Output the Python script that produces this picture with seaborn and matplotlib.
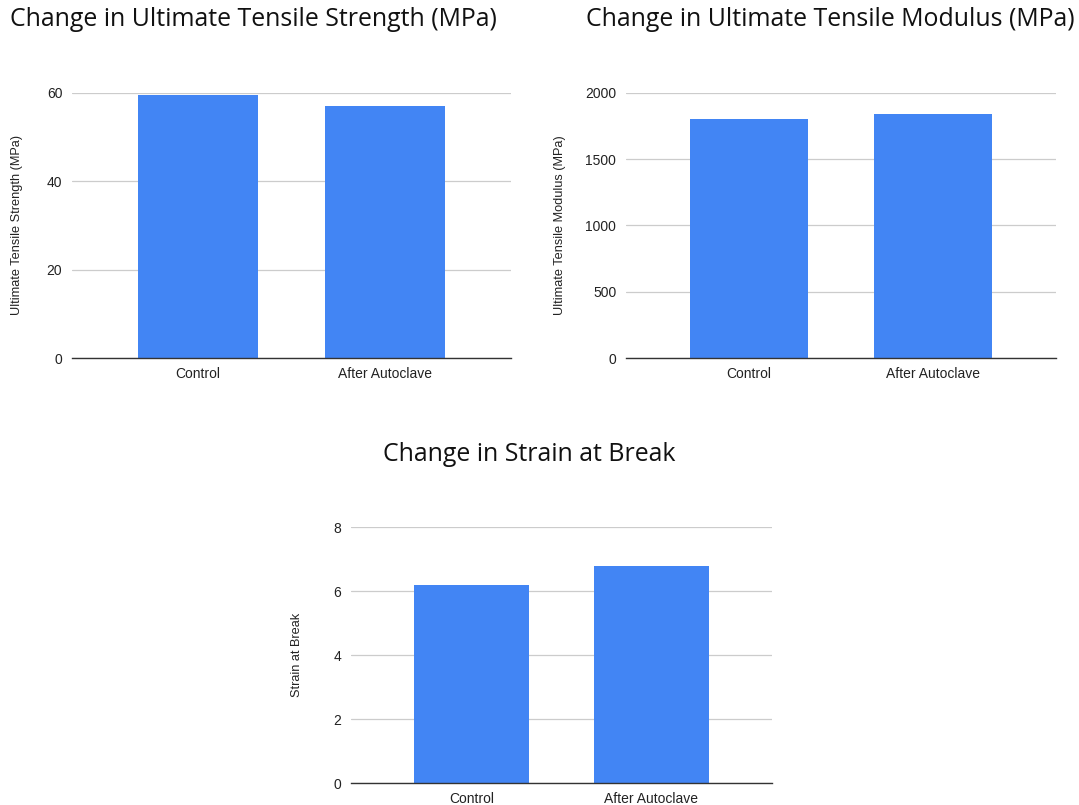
import matplotlib
matplotlib.use("Agg")
import matplotlib.pyplot as plt
import seaborn as sns
import pandas as pd

categories = ["Control", "After Autoclave"]
uts_values = [59.4, 57.0]
modulus_values = [1805, 1840]
strain_values = [6.21, 6.80]

uts_ticks = [0, 20, 40, 60]
modulus_ticks = [0, 500, 1000, 1500, 2000]
strain_ticks = [0, 2, 4, 6, 8]

titles = ["Change in Ultimate Tensile Strength (MPa)",
          "Change in Ultimate Tensile Modulus (MPa)",
          "Change in Strain at Break"]
ylabels = ["Ultimate Tensile Strength (MPa)",
           "Ultimate Tensile Modulus (MPa)",
           "Strain at Break"]

sns.set_theme(style="white")
plt.rcParams['font.family'] = ['Liberation Sans', 'DejaVu Sans']

BAR = "#4285F4"
W, H = 1079, 805
fig = plt.figure(figsize=(W / 100, H / 100), dpi=100)


def px_axes(left, top, right, bottom):
    return fig.add_axes([left / W, 1 - bottom / H, (right - left) / W, (bottom - top) / H])


def draw(ax, values, ticks, ylabel, lpad):
    df = pd.DataFrame({"cat": categories, "val": values})
    sns.barplot(data=df, x="cat", y="val", ax=ax, color=BAR, width=0.64,
                saturation=1, edgecolor="none")
    ax.set_xlim(-0.67, 1.67)
    ax.set_ylim(ticks[0], ticks[-1])
    ax.set_yticks(ticks)
    ax.set_yticklabels([str(t) for t in ticks])
    ax.set_xlabel("")
    ax.set_ylabel(ylabel, fontsize=9.2, color="#222222", labelpad=lpad)
    ax.tick_params(axis="both", length=0, labelsize=10, colors="#222222")
    ax.tick_params(axis="y", pad=7)
    ax.tick_params(axis="x", pad=6.5)
    for s in ["top", "right", "left"]:
        ax.spines[s].set_visible(False)
    ax.spines["bottom"].set_color("#333333")
    ax.spines["bottom"].set_linewidth(1.0)
    ax.yaxis.grid(True, color="#cccccc", linewidth=0.9)
    ax.set_axisbelow(True)
    ax.spines["bottom"].set_zorder(5)


ax1 = px_axes(72, 92.7, 511, 358)
draw(ax1, uts_values, uts_ticks, ylabels[0], 17)
ax2 = px_axes(626, 92.7, 1056, 358)
draw(ax2, modulus_values, modulus_ticks, ylabels[1], 14)
ax3 = px_axes(351, 527.3, 772, 783.3)
draw(ax3, strain_values, strain_ticks, ylabels[2], 22)

tfont = dict(family=["Open Sans", "DejaVu Sans"], fontsize=17.9, color="#111111")
fig.text(10 / W, 1 - 19 / H, titles[0], ha="left", va="center", **tfont)
fig.text(586 / W, 1 - 19 / H, titles[1], ha="left", va="center", **tfont)
fig.text(529.5 / W, 1 - 454 / H, titles[2], ha="center", va="center", **tfont)

fig.savefig("out.png", dpi=100)
